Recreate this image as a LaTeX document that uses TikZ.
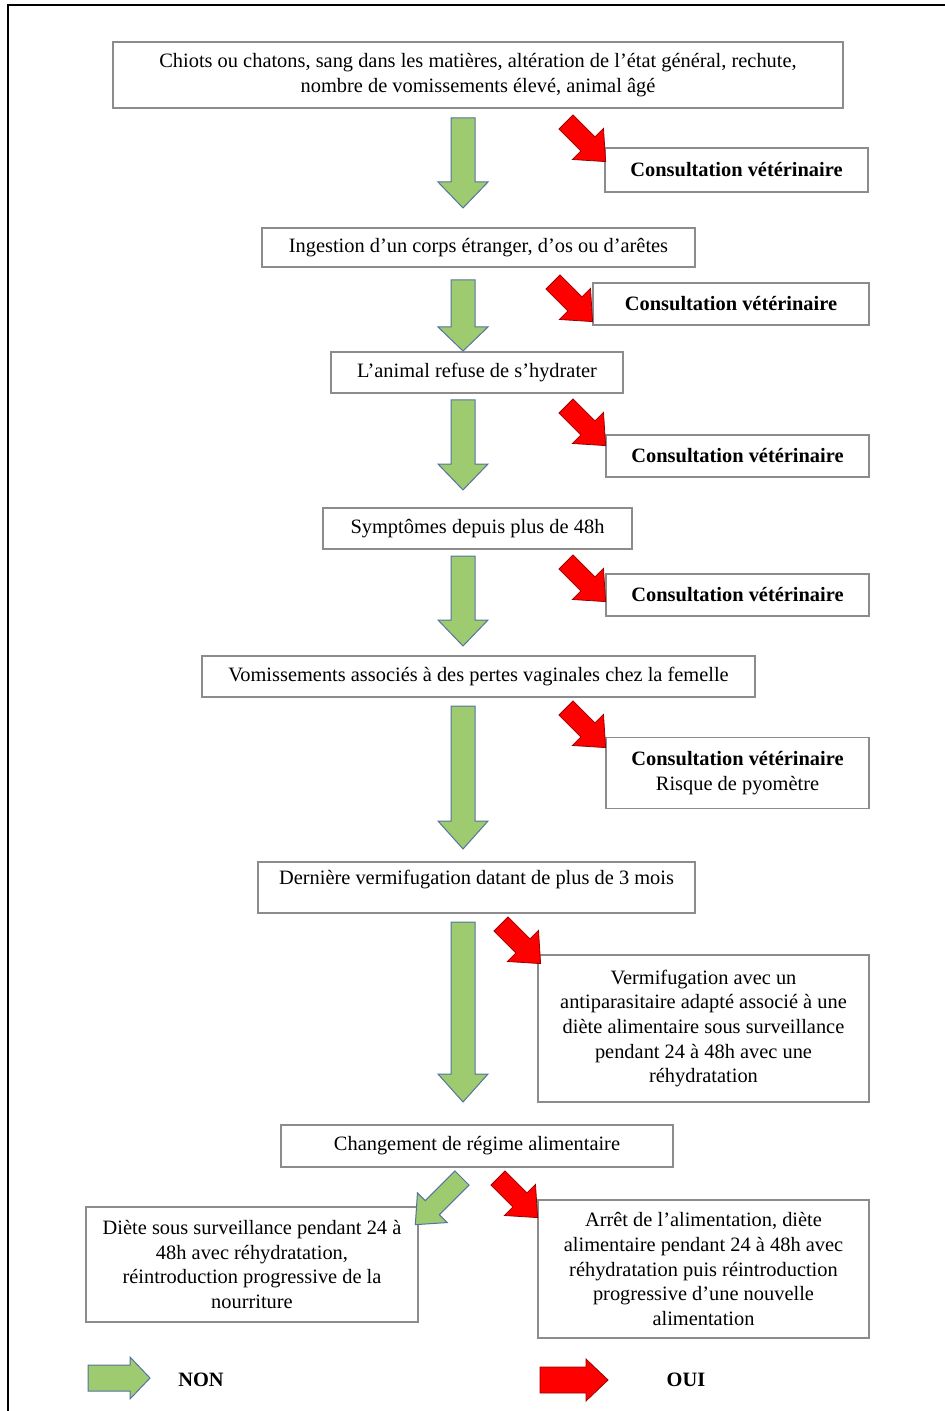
\documentclass[tikz,border=0pt]{standalone}
\usepackage{fontspec}
\setmainfont{Liberation Serif}
\definecolor{arrowgreen}{RGB}{158,203,112}
\definecolor{arrowblue}{RGB}{85,115,160}
\definecolor{boxgray}{RGB}{140,140,140}
\tikzset{
  box/.style={draw=boxgray, line width=0.9pt, fill=white, inner sep=0pt, align=center,
    font=\fontsize{10.2pt}{12.3pt}\selectfont},
  boldbox/.style={box, font=\fontsize{10.2pt}{12.3pt}\selectfont\bfseries},
  sz/.style 2 args={minimum width=#1*0.5pt, minimum height=#2*0.5pt},
  plaintext/.style={inner sep=0pt, align=center, font=\fontsize{10.2pt}{12.3pt}\selectfont},
  greenarrow/.style={fill=arrowgreen, draw=arrowblue, line width=0.5pt},
  redarrow/.style={fill=red, draw=red!60!black, line width=0.4pt},
  legendtext/.style={font=\fontsize{10.2pt}{12.3pt}\selectfont\bfseries},
  pics/blockarrow/.style n args={4}{code={
    \path[pic actions] (0,-#2) -- ({#1-#4},-#2) -- ({#1-#4},-#3) -- (#1,0)
      -- ({#1-#4},#3) -- ({#1-#4},#2) -- (0,#2) -- cycle;
  }},
}
\begin{document}
\begin{tikzpicture}[x=0.5pt, y=-0.5pt]
\useasboundingbox (0,0) rectangle (945,1411);
\clip (0,0) rectangle (945,1411);
% outer frame
\draw[line width=1.1pt] (8,1430) -- (8,5) -- (960,5);

% boxes
\node[box, sz={730}{66}] (top) at (478,75) {Chiots ou chatons, sang dans les matières, altération de l'état général, rechute,\\nombre de vomissements élevé, animal âgé};
\node[boldbox, sz={263}{44}] (c1) at (736.5,170) {Consultation vétérinaire};
\node[box, sz={433}{39}] (ing) at (478.5,247.5) {Ingestion d'un corps étranger, d'os ou d'arêtes};
\node[boldbox, sz={276}{42}] (c2) at (731,304) {Consultation vétérinaire};
\node[box, sz={292}{41}] (hyd) at (477,372.5) {L'animal refuse de s'hydrater};
\node[boldbox, sz={263}{42}] (c3) at (737.5,456) {Consultation vétérinaire};
\node[box, sz={309}{41}] (sym) at (477.5,528.5) {Symptômes depuis plus de 48h};
\node[boldbox, sz={263}{42}] (c4) at (737.5,595) {Consultation vétérinaire};
\node[box, sz={553}{41}] (vom) at (478.5,676.5) {Vomissements associés à des pertes vaginales chez la femelle};
\node[box, sz={263}{71}] (c5) at (737.5,773) {\textbf{Consultation vétérinaire}\\Risque de pyomètre};
\node[box, sz={437}{51}] (der) at (476.5,887.5) {};
\node[plaintext] (dert) at (476.5,880) {Dernière vermifugation datant de plus de 3 mois};
\node[box, sz={331}{147}] (verm) at (703.5,1028.5) {Vermifugation avec un\\antiparasitaire adapté associé à une\\diète alimentaire sous surveillance\\pendant 24 à 48h avec une\\réhydratation};
\node[box, sz={392}{42}] (chg) at (477,1146) {Changement de régime alimentaire};
\node[box, sz={332}{115}] (diet) at (252,1264.5) {Diète sous surveillance pendant 24 à\\48h avec réhydratation,\\réintroduction progressive de la\\nourriture};
\node[box, sz={331}{138}] (arr) at (703.5,1269) {Arrêt de l'alimentation, diète\\alimentaire pendant 24 à 48h avec\\réhydratation puis réintroduction\\progressive d'une nouvelle\\alimentation};

% green (NON) arrows
\pic[greenarrow, rotate=-90] at (463,118) {blockarrow={90}{12}{25}{26}};
\pic[greenarrow, rotate=-90] at (463,280) {blockarrow={71}{12}{25}{24}};
\pic[greenarrow, rotate=-90] at (463,400) {blockarrow={90}{12}{25}{26}};
\pic[greenarrow, rotate=-90] at (463,556) {blockarrow={90}{12}{25}{26}};
\pic[greenarrow, rotate=-90] at (463,706) {blockarrow={143}{12}{25}{28}};
\pic[greenarrow, rotate=-90] at (463,922) {blockarrow={180}{12}{25}{28}};
\pic[greenarrow, rotate=-135] at (462,1178) {blockarrow={66}{10}{21}{24}};

% red (OUI) arrows
\pic[redarrow, rotate=-45] at (566,122) {blockarrow={56}{10}{22}{25}};
\pic[redarrow, rotate=-45] at (553,282) {blockarrow={56}{10}{22}{25}};
\pic[redarrow, rotate=-45] at (566,406) {blockarrow={56}{10}{22}{25}};
\pic[redarrow, rotate=-45] at (566,562) {blockarrow={56}{10}{22}{25}};
\pic[redarrow, rotate=-45] at (566,708) {blockarrow={56}{10}{22}{25}};
\pic[redarrow, rotate=-45] at (501,924) {blockarrow={56}{10}{22}{25}};
\pic[redarrow, rotate=-45] at (498,1178) {blockarrow={56}{10}{22}{25}};

% legend
\pic[greenarrow] at (88,1378) {blockarrow={62}{13}{21}{20}};
\node[legendtext] (non) at (201,1380) {NON};
\pic[redarrow] at (540,1380) {blockarrow={68}{13}{21}{22}};
\node[legendtext] (oui) at (686,1380) {OUI};
\end{tikzpicture}
\end{document}
